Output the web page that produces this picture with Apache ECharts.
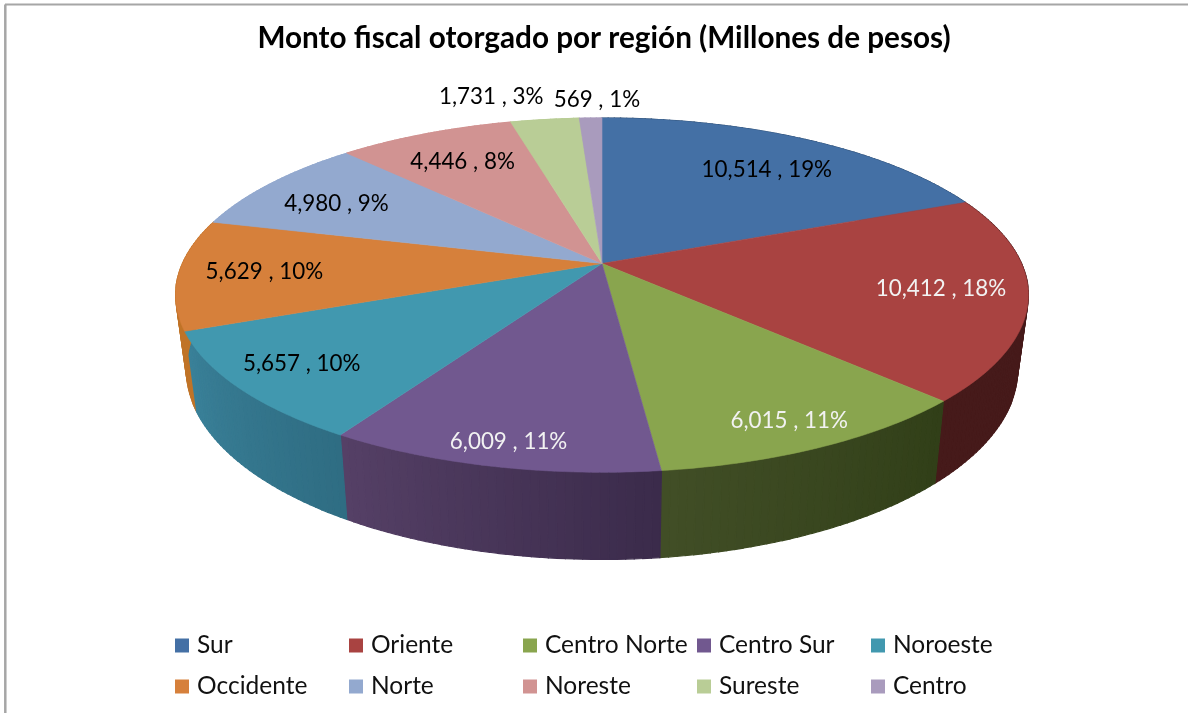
<!doctype html>
<html>
<head>
    <meta charset="utf-8">
</head>
<body style="width: 1188px; height: 713px; margin: 0; background: #fff">
    <div id="container" style="width: 1188px; height: 713px"></div>
    <script src="https://cdn.jsdelivr.net/npm/echarts@6/dist/echarts.min.js"></script>
    <script>
        // values
        var regions = ['Sur', 'Oriente', 'Centro Norte', 'Centro Sur', 'Noroeste', 'Occidente', 'Norte', 'Noreste', 'Sureste', 'Centro'];
        var amounts = [10514, 10412, 6015, 6009, 5657, 5629, 4980, 4446, 1731, 569];
        var percents = [19, 18, 11, 11, 10, 10, 9, 8, 3, 1];

        var topColors = ['#4470a5', '#a94341', '#89a54e', '#71588f', '#4198af', '#d6803b', '#93a9cf', '#d19392', '#b9cd96', '#a99bbd'];
        // wall shade at the clockwise start and end of each slice
        var wallFrom = ['#2c4a6e', '#451a1a', '#313f18', '#3b2b4b', '#2f6d83', '#c07428', '#93a9cf', '#d19392', '#b9cd96', '#a99bbd'];
        var wallTo = ['#2c4a6e', '#461a1a', '#414e26', '#554066', '#3a8199', '#c07428', '#93a9cf', '#d19392', '#b9cd96', '#a99bbd'];
        var labelColors = ['#000', '#f2f2f2', '#f2f2f2', '#f2f2f2', '#000', '#000', '#000', '#000', '#000', '#000'];
        // where each label sits on the disc: fraction of radius, degrees off the slice middle
        var labelRadius = [0.75, 0.80, 0.874, 0.894, 0.835, 0.80, 0.776, 0.765, 1.225, 1.157];
        var labelTurn = [1.7, -1.2, 0, -0.5, 0.8, 0.6, -1.2, 0, -5.9, 1.1];

        var legendX = [175, 349, 523, 697, 871];
        var legendY = [633, 674];

        var total = amounts.reduce(function (a, b) { return a + b; }, 0);

        // tilted disc: same projection for every rim point
        var pie = { x: 602, y: 263.5, a: 419.5, b: 171.5, p: -0.1785 };
        var wall = { shrink: 0.975, depth: 87, grow: 0.0725, refY: 470 };

        function project(deg, r) {
            var t = deg * Math.PI / 180;
            var u = r * Math.sin(t), v = -r * Math.cos(t);
            var k = 1 + pie.p * v;
            return [pie.x + pie.a * u / k, pie.y + pie.b * v / k];
        }

        function lower(pt) {
            return [
                pie.x + wall.shrink * (pt[0] - pie.x),
                pt[1] + wall.depth + (pt[1] - wall.refY) * wall.grow
            ];
        }

        function arc(from, to) {
            var pts = [];
            var n = Math.max(2, Math.ceil(to - from));
            for (var i = 0; i <= n; i++) {
                pts.push(project(from + (to - from) * i / n, 1));
            }
            return pts;
        }

        function makeRender(index, before) {
            return function (params, api) {
                var from = before / total * 360;
                var to = (before + api.value(0)) / total * 360;
                var rim = arc(from, to);
                var mid = (from + to) / 2 + labelTurn[index];
                var at = project(mid, labelRadius[index]);
                var children = [];
                // the wall is swept one small step at a time, so its outline follows the silhouette
                for (var i = 0; i < rim.length - 1; i++) {
                    var c = echarts.color.lerp(i / (rim.length - 2), [wallFrom[index], wallTo[index]]);
                    children.push({
                        type: 'polygon',
                        z2: 1,
                        shape: { points: [rim[i], rim[i + 1], lower(rim[i + 1]), lower(rim[i])] },
                        style: { fill: c, stroke: c, lineWidth: 1.2 }
                    });
                }
                children.push({
                    type: 'polygon',
                    z2: 5,
                    shape: { points: [[pie.x, pie.y]].concat(rim) },
                    style: { fill: topColors[index], stroke: topColors[index], lineWidth: 0.6 }
                });
                children.push({
                    type: 'text',
                    z2: 10,
                    style: {
                        x: at[0],
                        y: at[1] + 1,
                        text: api.value(0).toLocaleString('en-US') + ' , ' + percents[index] + '%',
                        fill: labelColors[index],
                        font: '22.4px Lato',
                        align: 'center',
                        verticalAlign: 'middle'
                    }
                });
                return { type: 'group', children: children };
            };
        }

        var series = [];
        var legends = [];
        var sum = 0;
        regions.forEach(function (name, i) {
            series.push({
                type: 'custom',
                name: name,
                coordinateSystem: 'none',
                silent: true,
                itemStyle: { color: topColors[i] },
                renderItem: makeRender(i, sum),
                data: [[amounts[i]]]
            });
            sum += amounts[i];
            legends.push({
                data: [{ name: name, icon: 'rect' }],
                left: legendX[i % 5],
                top: legendY[Math.floor(i / 5)],
                padding: 0,
                itemWidth: 14,
                itemHeight: 14,
                selectedMode: false,
                textStyle: { fontFamily: 'Lato', fontSize: 24.5, color: '#111', padding: [0, 0, 0, 3] }
            });
        });

        var myChart = echarts.init(document.getElementById('container'));
        myChart.setOption({
            animation: false,
            title: {
                text: 'Monto fiscal otorgado por región (Millones de pesos)',
                left: 599,
                top: 18.5,
                textAlign: 'center',
                textStyle: { fontFamily: 'Lato', fontWeight: 'bold', fontSize: 29.7, color: '#000' }
            },
            legend: legends,
            graphic: [
                { type: 'line', shape: { x1: 5, y1: 4.5, x2: 1188, y2: 4.5 }, style: { stroke: '#a6a6a6', lineWidth: 2 } },
                { type: 'line', shape: { x1: 5.3, y1: 4.5, x2: 5.3, y2: 713 }, style: { stroke: '#a6a6a6', lineWidth: 2.5 } }
            ],
            series: series
        });
    </script>
</body>
</html>
